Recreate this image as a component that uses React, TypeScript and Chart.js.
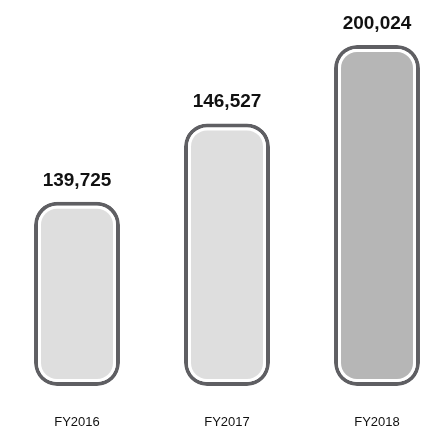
import React, { useEffect, useRef } from "react";
import { Chart, registerables } from "chart.js";

Chart.register(...registerables);

const categories = ["FY2016", "FY2017", "FY2018"];
const values = [139725, 146527, 200024];
// relative bar heights as drawn in the reference (percent of the tallest bar)
const barLevels = [54, 77, 100];
const fillColors = ["#dedede", "#dedede", "#b6b6b6"];

const fmt = (n: number) => n.toLocaleString("en-US");

const innerFillPlugin = {
  id: "innerFill",
  afterDatasetsDraw(chart: any) {
    const ctx = chart.ctx;
    const meta = chart.getDatasetMeta(0);
    meta.data.forEach((bar: any, i: number) => {
      const { x, y, base, width } = bar.getProps(["x", "y", "base", "width"], true);
      const inset = 7;
      const left = x - width / 2 + inset;
      const top = y + inset;
      const w = width - inset * 2;
      const h = base - y - inset * 2;
      ctx.save();
      ctx.fillStyle = fillColors[i];
      ctx.beginPath();
      (ctx as any).roundRect(left, top, w, h, 16);
      ctx.fill();
      ctx.restore();
      ctx.save();
      ctx.fillStyle = "#111";
      ctx.font = "bold 19px 'Liberation Sans', Arial, sans-serif";
      ctx.textAlign = "center";
      ctx.textBaseline = "alphabetic";
      ctx.fillText(fmt(values[i]), x, y - 16);
      ctx.restore();
    });
  },
};

export default function App() {
  const ref = useRef<HTMLCanvasElement>(null);
  useEffect(() => {
    if (!ref.current) return;
    const chart = new Chart(ref.current, {
      type: "bar",
      data: {
        labels: categories,
        datasets: [
          {
            data: barLevels,
            backgroundColor: "#ffffff",
            borderColor: "#5f5f63",
            borderWidth: 4,
            borderRadius: 23,
            borderSkipped: false,
            categoryPercentage: 1,
            barPercentage: 0.573,
            clip: false,
          } as any,
        ],
      },
      options: {
        responsive: false,
        animation: false,
        layout: { padding: { left: 77, right: 59, top: 45, bottom: 1 } },
        plugins: { legend: { display: false }, tooltip: { enabled: false } },
        scales: {
          x: {
            offset: false,
            grid: { display: false, drawTicks: false },
            border: { display: false },
            afterFit: (scale: any) => {
              scale.height = 44;
            },
            ticks: {
              padding: 29,
              color: "#111",
              font: { family: "'Liberation Sans', Arial, sans-serif", size: 13 },
              maxRotation: 0,
            },
          },
          y: { display: false, min: 0, max: 100 },
        },
      },
      plugins: [innerFillPlugin],
    });
    return () => chart.destroy();
  }, []);
  return (
    <div style={{ position: "fixed", left: 0, top: 0, width: 436, height: 431, background: "#fff" }}>
      <canvas ref={ref} width={436} height={431} />
    </div>
  );
}
